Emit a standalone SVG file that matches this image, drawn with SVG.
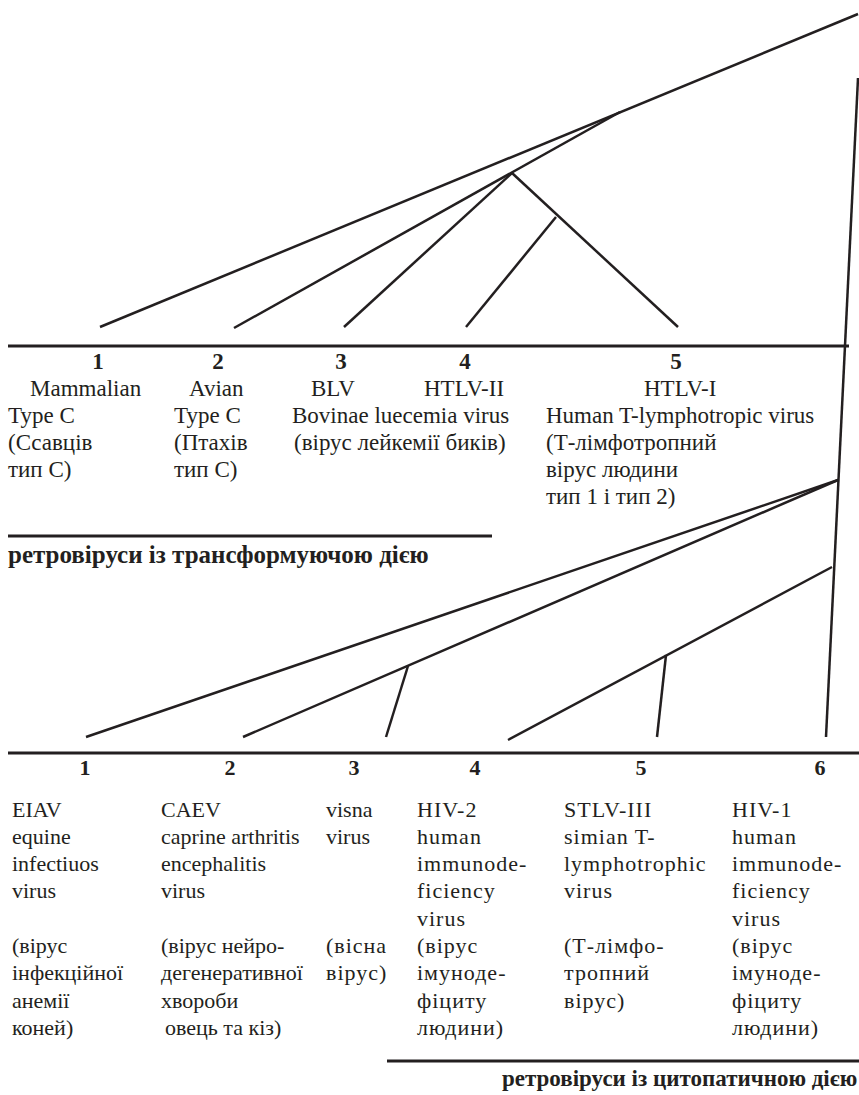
<svg xmlns="http://www.w3.org/2000/svg" width="859" height="1095" viewBox="0 0 859 1095">
<style>
text{font-family:"Liberation Serif","Times New Roman",serif;font-size:22px;fill:#231f20}
.t text{font-size:23px}
.n{font-weight:bold;text-anchor:middle}
.b{font-weight:bold}
.s{letter-spacing:1px}
.e{stroke:#231f20;stroke-width:2.5;fill:none;stroke-linecap:butt}
.r{stroke:#231f20;stroke-width:3;fill:none}
</style>
<rect width="859" height="1095" fill="#fff"/>
<g id="connectors">
<line class="e" x1="100" y1="327" x2="858" y2="14"/>
<line class="e" x1="620" y1="112" x2="234" y2="328"/>
<line class="e" x1="512" y1="173" x2="344" y2="327"/>
<line class="e" x1="512" y1="173" x2="678" y2="327"/>
<line class="e" x1="556" y1="217" x2="466" y2="327"/>
<line class="e" x1="858" y1="78" x2="826" y2="737"/>
<line class="e" x1="838" y1="480" x2="86" y2="737"/>
<line class="e" x1="838" y1="480" x2="243" y2="737"/>
<line class="e" x1="408" y1="666" x2="386" y2="737"/>
<line class="e" x1="832" y1="567" x2="508" y2="740"/>
<line class="e" x1="666" y1="655" x2="657" y2="737"/>
</g>
<g id="rules">
<line class="r" x1="8" y1="346" x2="849" y2="346"/>
<line class="r" x1="8" y1="536" x2="492" y2="536"/>
<line class="r" x1="8" y1="753" x2="859" y2="753"/>
<line class="r" x1="387" y1="1061" x2="859" y2="1061"/>
</g>
<g id="t1" class="t">
<text class="n" x="98" y="369">1</text>
<text x="30" y="396">Mammalian</text>
<text x="8" y="423">Type C</text>
<text x="8" y="450">(Ссавців</text>
<text x="8" y="477">тип С)</text>
</g>
<g id="t2" class="t">
<text class="n" x="218" y="369">2</text>
<text x="189" y="396">Avian</text>
<text x="174" y="423">Type C</text>
<text x="174" y="450">(Птахів</text>
<text x="174" y="477">тип С)</text>
</g>
<g id="t3" class="t">
<text class="n" x="341" y="369">3</text>
<text x="311" y="396">BLV</text>
<text x="292" y="423">Bovinae luecemia virus</text>
<text x="294" y="450">(вірус лейкемії биків)</text>
</g>
<g id="t4" class="t">
<text class="n" x="465" y="369">4</text>
<text x="424" y="396">HTLV-II</text>
</g>
<g id="t5" class="t">
<text class="n" x="676" y="369">5</text>
<text x="644" y="396">HTLV-I</text>
<text x="546" y="423">Human T-lymphotropic virus</text>
<text x="546" y="450">(Т-лімфотропний</text>
<text x="546" y="477">вірус людини</text>
<text x="546" y="504">тип 1 і тип 2)</text>
</g>
<g id="title1">
<text class="b" x="8" y="563" style="font-size:25px">ретровіруси із трансформуючою дією</text>
</g>
<g id="b1">
<text class="n" x="85" y="775">1</text>
<text x="12" y="817">EIAV</text>
<text x="12" y="844">equine</text>
<text x="12" y="871">infectiuos</text>
<text x="12" y="898">virus</text>
<text x="12" y="953">(вірус</text>
<text x="12" y="980">інфекційної</text>
<text x="12" y="1008">анемії</text>
<text x="12" y="1035">коней)</text>
</g>
<g id="b2">
<text class="n" x="230" y="775">2</text>
<text x="161" y="817">CAEV</text>
<text x="161" y="844">caprine arthritis</text>
<text x="161" y="871">encephalitis</text>
<text x="161" y="898">virus</text>
<text x="161" y="953">(вірус нейро-</text>
<text x="161" y="980">дегенеративної</text>
<text x="161" y="1008">хвороби</text>
<text x="165" y="1035">овець та кіз)</text>
</g>
<g id="b3">
<text class="n" x="354" y="775">3</text>
<text x="326" y="817">visna</text>
<text x="326" y="844">virus</text>
<text class="s" x="326" y="953">(вісна</text>
<text class="s" x="326" y="980">вірус)</text>
</g>
<g id="b4">
<text class="n" x="475" y="775">4</text>
<text class="s" x="417" y="817">HIV-2</text>
<text class="s" x="417" y="844">human</text>
<text class="s" x="417" y="871">immunode-</text>
<text class="s" x="417" y="898">ficiency</text>
<text class="s" x="417" y="926">virus</text>
<text class="s" x="417" y="953">(вірус</text>
<text class="s" x="417" y="980">імуноде-</text>
<text class="s" x="417" y="1008">фіциту</text>
<text class="s" x="417" y="1035">людини)</text>
</g>
<g id="b5">
<text class="n" x="641" y="775">5</text>
<text class="s" x="564" y="817">STLV-III</text>
<text class="s" x="564" y="844">simian T-</text>
<text class="s" x="564" y="871">lymphotrophic</text>
<text class="s" x="564" y="898">virus</text>
<text class="s" x="564" y="953">(Т-лімфо-</text>
<text class="s" x="564" y="980">тропний</text>
<text class="s" x="564" y="1008">вірус)</text>
</g>
<g id="b6">
<text class="n" x="820" y="775">6</text>
<text class="s" x="732" y="817">HIV-1</text>
<text class="s" x="732" y="844">human</text>
<text class="s" x="732" y="871">immunode-</text>
<text class="s" x="732" y="898">ficiency</text>
<text class="s" x="732" y="926">virus</text>
<text class="s" x="732" y="953">(вірус</text>
<text class="s" x="732" y="980">імуноде-</text>
<text class="s" x="732" y="1008">фіциту</text>
<text class="s" x="732" y="1035">людини)</text>
</g>
<g id="title2">
<text class="b" x="502" y="1086" style="font-size:23px">ретровіруси із цитопатичною дією</text>
</g>
</svg>
